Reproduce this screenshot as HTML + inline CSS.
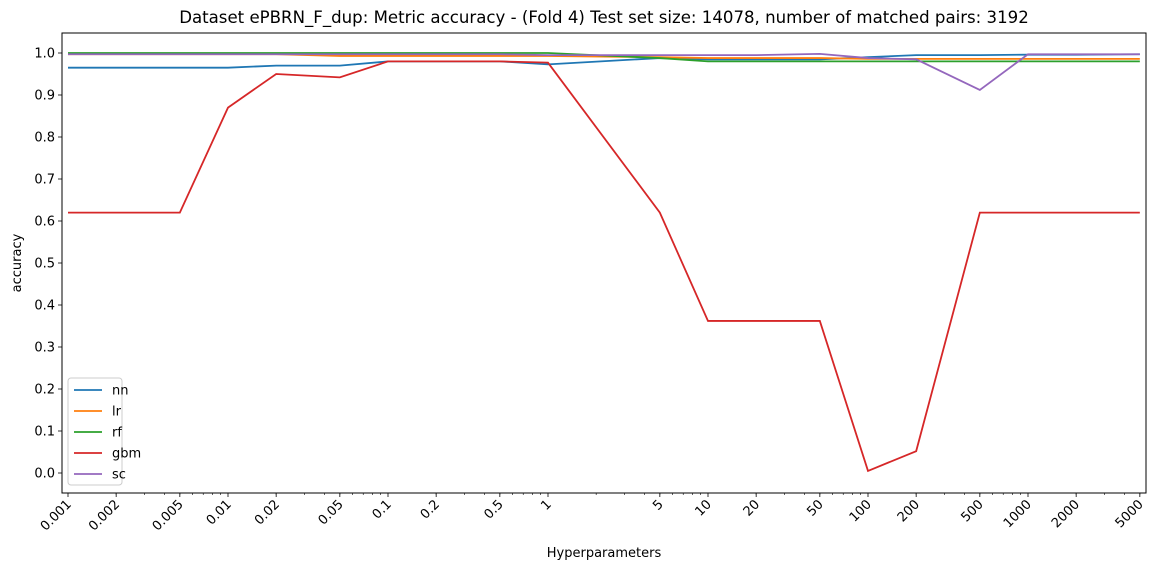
<!DOCTYPE html>
<html><head><meta charset="utf-8"><style>
body{margin:0;background:#fff;font-family:"DejaVu Sans","Liberation Sans",sans-serif;}
svg text{font-family:"DejaVu Sans","Liberation Sans",sans-serif;}
</style></head><body>
<svg id="chart" width="1166" height="571" xmlns="http://www.w3.org/2000/svg"></svg>
<script>
const xs=[0.001,0.002,0.005,0.01,0.02,0.05,0.1,0.2,0.5,1,5,10,20,50,100,200,500,1000,2000,5000];
const xTickLabels=["0.001","0.002","0.005","0.01","0.02","0.05","0.1","0.2","0.5","1","5","10","20","50","100","200","500","1000","2000","5000"];
const nn=[0.965,0.965,0.965,0.965,0.970,0.970,0.980,0.980,0.980,0.973,0.988,0.985,0.985,0.985,0.990,0.995,0.995,0.996,0.996,0.997];
const lr=[0.997,0.997,0.997,0.997,0.997,0.993,0.993,0.993,0.993,0.993,0.990,0.988,0.988,0.988,0.986,0.986,0.986,0.986,0.986,0.986];
const rf=[1.0,1.0,1.0,1.0,1.0,1.0,1.0,1.0,1.0,1.0,0.988,0.980,0.980,0.980,0.980,0.980,0.980,0.980,0.980,0.980];
const gbm=[0.62,0.62,0.62,0.87,0.95,0.942,0.98,0.98,0.98,0.977,0.62,0.362,0.362,0.362,0.005,0.052,0.62,0.62,0.62,0.62];
const sc=[0.997,0.997,0.997,0.997,0.997,0.997,0.997,0.997,0.997,0.995,0.995,0.995,0.995,0.998,0.988,0.985,0.912,0.997,0.997,0.997];
const yTicks=[0,0.1,0.2,0.3,0.4,0.5,0.6,0.7,0.8,0.9,1.0];
const seriesNames=["nn","lr","rf","gbm","sc"];
const seriesData=[nn,lr,rf,gbm,sc];
const colors=["#1f77b4","#ff7f0e","#2ca02c","#d62728","#9467bd"];

const svg=document.getElementById('chart');
const NS="http://www.w3.org/2000/svg";
const L=62,R=1146,T=33,B=493;
const xp=v=>68+160*(Math.log10(v)+3);
const yp=v=>473-420*v;
function mk(tag,attrs,parent){const e=document.createElementNS(NS,tag);for(const k in attrs)e.setAttribute(k,attrs[k]);(parent||svg).appendChild(e);return e;}

const title=mk('text',{x:(L+R)/2,y:23,'text-anchor':'middle','font-size':16.6,fill:'#000'});


title.textContent="Dataset ePBRN_F_dup: Metric accuracy - (Fold 4) Test set size: 14078, number of matched pairs: 3192";

for(let d=-3;d<4;d++){for(let m=2;m<10;m++){const v=m*Math.pow(10,d);if(v>5000)continue;const x=xp(v);mk('line',{x1:x,x2:x,y1:B,y2:B+2,stroke:'#000','stroke-width':0.6});}}
xs.forEach((v,i)=>{const x=xp(v);
  mk('line',{x1:x,x2:x,y1:B,y2:B+4,stroke:'#000','stroke-width':0.8});
  const t=mk('text',{'font-size':13,'text-anchor':'end',fill:'#000',transform:`translate(${x+4},${B+12}) rotate(-45)`});
  
  
  t.textContent=xTickLabels[i];});
yTicks.forEach(v=>{const y=yp(v);
  mk('line',{x1:L-4,x2:L,y1:y,y2:y,stroke:'#000','stroke-width':0.8});
  const t=mk('text',{x:L-7,y:y+4.5,'font-size':13,'text-anchor':'end',fill:'#000'});
  
  
  t.textContent=v.toFixed(1);});

const xt=mk('text',{x:(L+R)/2,y:557,'font-size':13,'text-anchor':'middle'});


xt.textContent="Hyperparameters";
const yt=mk('text',{'font-size':13,'text-anchor':'middle',transform:`translate(21,${(T+B)/2}) rotate(-90)`});


yt.textContent="accuracy";

seriesData.forEach((d,si)=>{
  const p=mk('polyline',{points:d.map((v,i)=>xp(xs[i])+','+yp(v)).join(' '),fill:'none',stroke:colors[si],'stroke-width':1.8});
  
  
});

const frame=mk('rect',{x:L,y:T,width:R-L,height:B-T,fill:'none',stroke:'#000','stroke-width':1});



const lg=mk('g',{});


mk('rect',{x:68,y:378,width:54,height:107,rx:3,fill:'#fff',stroke:'#ccc'},lg);
seriesNames.forEach((n,i)=>{const y=390+21*i;
  const g=mk('g',{},lg);
  
  
  mk('line',{x1:74,x2:102,y1:y,y2:y,stroke:colors[i],'stroke-width':1.8},g);
  const t=mk('text',{x:112,y:y+4.5,'font-size':13},g);t.textContent=n;});
</script>
</body></html>
